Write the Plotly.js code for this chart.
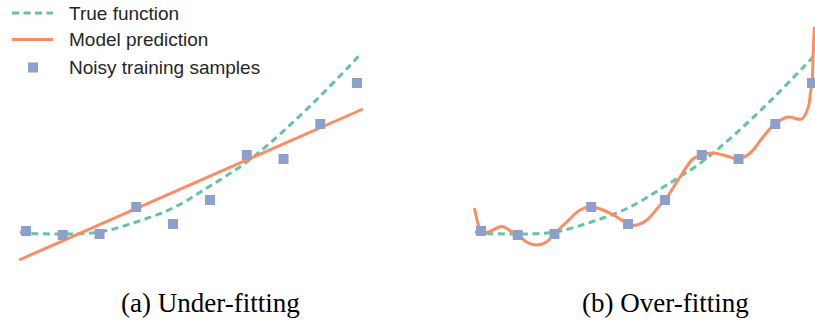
<!DOCTYPE html>
<html>
<head>
<meta charset="utf-8">
<script src="https://cdn.plot.ly/plotly-3.0.1.min.js"></script>
<style>
  html, body { margin: 0; padding: 0; background: #ffffff; }
  #chart { width: 815px; height: 330px; }
</style>
</head>
<body>
<div id="chart"></div>
<script>
// Noisy training samples (same in both panels)
const sampleX = [0, 0.111, 0.222, 0.333, 0.444, 0.556, 0.667, 0.778, 0.889, 1.0];
const sampleY = [0.09, 0.05, 0.06, 0.33, 0.16, 0.40, 0.85, 0.81, 1.16, 1.57];

// True function
const trueX = [-0.018, 0, 0.111, 0.222, 0.333, 0.444, 0.556, 0.667, 0.778, 0.889, 1.0, 1.008];
const trueY = [0.08, 0.07, 0.06, 0.08, 0.18, 0.32, 0.54, 0.78, 1.09, 1.44, 1.82, 1.85];

// Under-fitting model: a straight line
const underX = [-0.021, 1.018];
const underY = [-0.20, 1.31];

// Over-fitting model: wiggly high-degree fit
const overX = [-0.020, -0.008, 0.000, 0.022, 0.063, 0.098, 0.111, 0.138, 0.168, 0.198,
               0.221, 0.259, 0.299, 0.332, 0.369, 0.410, 0.444, 0.462, 0.501, 0.541,
               0.556, 0.601, 0.640, 0.665, 0.701, 0.742, 0.776, 0.813, 0.852, 0.888,
               0.927, 0.969, 0.989, 0.995, 1.000, 1.003, 1.007];
const overY = [0.32, 0.15, 0.09, 0.08, 0.135, 0.07, 0.05, -0.02, -0.05, -0.02,
               0.06, 0.18, 0.30, 0.33, 0.30, 0.23, 0.16, 0.145, 0.20, 0.35,
               0.40, 0.63, 0.81, 0.85, 0.87, 0.84, 0.81, 0.87, 1.03, 1.16,
               1.23, 1.21, 1.33, 1.47, 1.57, 1.83, 2.13];

const captions = ['(a) Under-fitting', '(b) Over-fitting'];
const legendNames = ['True function', 'Model prediction', 'Noisy training samples'];

const GREEN = '#66c2a5', ORANGE = '#fc8d62', BLUE = '#8da0cb';
const TRUE_DASH = '7px,4.5px';

const W = 815, H = 330, PLOT_H = 270;
const px = v => v / W;                 // pixel x -> paper x
const py = v => (PLOT_H - v) / PLOT_H; // pixel y -> paper y

function panel(xa, ya, modelX, modelY) {
  return [
    { x: trueX, y: trueY, xaxis: xa, yaxis: ya, type: 'scatter', mode: 'lines',
      name: legendNames[0], showlegend: false,
      line: { color: GREEN, width: 3, dash: TRUE_DASH, shape: 'spline', smoothing: 1 },
      hoverinfo: 'skip' },
    { x: modelX, y: modelY, xaxis: xa, yaxis: ya, type: 'scatter', mode: 'lines',
      name: legendNames[1], showlegend: false,
      line: { color: ORANGE, width: 3, shape: 'spline', smoothing: 1 },
      hoverinfo: 'skip' },
    { x: sampleX, y: sampleY, xaxis: xa, yaxis: ya, type: 'scatter', mode: 'markers',
      name: legendNames[2], showlegend: false,
      marker: { color: BLUE, symbol: 'square', size: 10, line: { width: 0 } },
      hoverinfo: 'skip' }
  ];
}

const data = [].concat(
  panel('x', 'y', underX, underY),
  panel('x2', 'y2', overX, overY)
);

const hidden = { visible: false, showgrid: false, zeroline: false, fixedrange: true };

// Legend key in the upper-left corner
const legendRows = [13, 39.5, 67.5];
const legendShapes = [
  { type: 'line', xref: 'paper', yref: 'paper', x0: px(12), x1: px(53), y0: py(legendRows[0]), y1: py(legendRows[0]),
    line: { color: GREEN, width: 3, dash: TRUE_DASH } },
  { type: 'line', xref: 'paper', yref: 'paper', x0: px(12), x1: px(53), y0: py(legendRows[1]), y1: py(legendRows[1]),
    line: { color: ORANGE, width: 3 } },
  { type: 'rect', xref: 'paper', yref: 'paper', x0: px(28), x1: px(38), y0: py(legendRows[2] - 5), y1: py(legendRows[2] + 5),
    fillcolor: BLUE, line: { width: 0 } }
];
const legendFont = { family: 'Liberation Sans, Arial, sans-serif', size: 19, color: '#262626' };
const legendLabels = legendNames.map((name, i) => ({
  text: name, xref: 'paper', yref: 'paper', x: px(67), y: py(legendRows[i]),
  xanchor: 'left', yanchor: 'middle', showarrow: false, font: legendFont
}));

// Sub-figure captions below each panel
const captionFont = { family: 'Liberation Serif, Times New Roman, serif', size: 27, color: '#000000' };
const captionLabels = [
  { text: captions[0], xref: 'paper', yref: 'paper', x: px(210), y: py(303),
    xanchor: 'center', yanchor: 'middle', showarrow: false, font: captionFont },
  { text: captions[1], xref: 'paper', yref: 'paper', x: px(665), y: py(303),
    xanchor: 'center', yanchor: 'middle', showarrow: false, font: captionFont }
];

const layout = {
  width: W, height: H,
  margin: { l: 0, r: 0, t: 0, b: H - PLOT_H, pad: 0 },
  paper_bgcolor: '#ffffff', plot_bgcolor: '#ffffff',
  showlegend: false,
  xaxis:  Object.assign({ domain: [0.0116, 0.4583], range: [-0.05, 1.05], anchor: 'y' }, hidden),
  yaxis:  Object.assign({ domain: [0, 1], range: [-0.30, 2.40], anchor: 'x' }, hidden),
  xaxis2: Object.assign({ domain: [0.5699, 1.0], range: [-0.05, 1.009], anchor: 'y2' }, hidden),
  yaxis2: Object.assign({ domain: [0, 1], range: [-0.30, 2.40], anchor: 'x2' }, hidden),
  shapes: legendShapes,
  annotations: legendLabels.concat(captionLabels)
};

Plotly.newPlot('chart', data, layout, { staticPlot: true, displayModeBar: false });
</script>
</body>
</html>
